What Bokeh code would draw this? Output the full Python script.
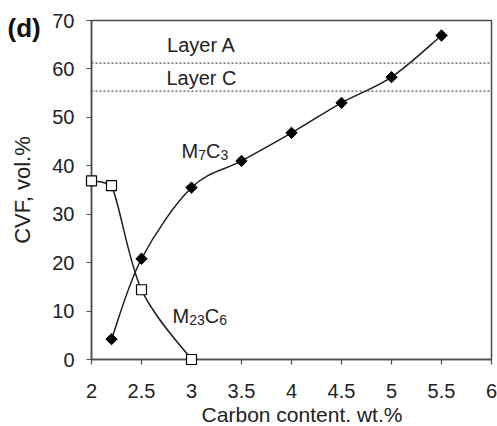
import numpy as np
from bokeh.plotting import figure
from bokeh.models import Span, ColumnDataSource, FixedTicker, NumeralTickFormatter, Range1d
from bokeh.core.properties import value
from bokeh.embed import file_html
from bokeh.resources import INLINE

# ---- data ----
carbon_m7c3 = [2.2, 2.5, 3.0, 3.5, 4.0, 4.5, 5.0, 5.5]
cvf_m7c3 = [4.2, 20.8, 35.5, 41.0, 46.8, 53.0, 58.3, 66.9]
carbon_m23c6 = [2.0, 2.2, 2.5, 3.0]
cvf_m23c6 = [36.9, 35.9, 14.4, 0.0]
layer_names = ["Layer A", "Layer C"]
layer_levels = [61.2, 55.4]
x_ticks = [2, 2.5, 3, 3.5, 4, 4.5, 5, 5.5, 6]
y_ticks = [0, 10, 20, 30, 40, 50, 60, 70]
x_title = "Carbon content. wt.%"
y_title = "CVF, vol.%"
panel_tag = "(d)"

FONT = "Liberation Sans"
TXT = "#222222"
AX = "#4d4d4d"

p = figure(width=497, height=426, output_backend="svg", toolbar_location=None,
           x_range=Range1d(2, 6), y_range=Range1d(0, 70),
           min_border_left=91, min_border_right=6, min_border_top=20, min_border_bottom=67)
p.grid.visible = False
p.outline_line_color = AX
p.outline_line_width = 1.5
p.background_fill_color = "white"
p.border_fill_color = "white"

for ax in (p.xaxis[0], p.yaxis[0]):
    ax.axis_line_color = AX
    ax.axis_line_width = 1.5
    ax.major_tick_line_color = AX
    ax.major_tick_line_width = 1.2
    ax.major_tick_out = 5
    ax.major_tick_in = 0
    ax.minor_tick_line_color = None
    ax.major_label_text_font = FONT
    ax.major_label_text_font_size = "20px"
    ax.major_label_text_color = TXT
    ax.axis_label_text_font = FONT
    ax.axis_label_text_font_style = "normal"
    ax.axis_label_text_color = TXT

p.xaxis.ticker = FixedTicker(ticks=x_ticks)
p.yaxis.ticker = FixedTicker(ticks=y_ticks)
p.xaxis.formatter = NumeralTickFormatter(format="0.[0]")
p.yaxis.formatter = NumeralTickFormatter(format="0")
p.yaxis.axis_label = y_title
p.yaxis.axis_label_text_font_size = "22px"
p.xaxis.major_label_standoff = 19
p.yaxis.major_label_standoff = 12
p.yaxis.axis_label_standoff = 14


def smooth(xs, ys):
    x = np.asarray(xs, float)
    y = np.asarray(ys, float)
    xp = np.concatenate([[x[0]], x, [x[-1]]])
    yp = np.concatenate([[y[0]], y, [y[-1]]])
    k = 1 / 6
    cx0 = x[:-1] + (xp[2:-1] - xp[:-3]) * k
    cy0 = y[:-1] + (yp[2:-1] - yp[:-3]) * k
    cx1 = x[1:] - (xp[3:] - xp[1:-2]) * k
    cy1 = y[1:] - (yp[3:] - yp[1:-2]) * k
    lo = np.minimum(y[:-1], y[1:])
    hi = np.maximum(y[:-1], y[1:])
    cy0 = np.clip(cy0, lo, hi)
    cy1 = np.clip(cy1, lo, hi)
    return dict(x0=x[:-1], y0=y[:-1], x1=x[1:], y1=y[1:], cx0=cx0, cy0=cy0, cx1=cx1, cy1=cy1)


LINE = "#1e1e1e"
for xs, ys in ((carbon_m7c3, cvf_m7c3), (carbon_m23c6, cvf_m23c6)):
    src = ColumnDataSource(smooth(xs, ys))
    p.bezier(x0="x0", y0="y0", x1="x1", y1="y1", cx0="cx0", cy0="cy0", cx1="cx1", cy1="cy1",
             source=src, line_color=LINE, line_width=1.5)

for name, lvl in zip(layer_names, layer_levels):
    p.add_layout(Span(location=lvl, dimension="width", line_color="#555555",
                      line_width=1.2, line_dash="2 2"))

p.scatter(carbon_m7c3, cvf_m7c3, marker="square", angle=np.pi / 4, size=8,
          fill_color="black", line_color="black", line_width=1, level="overlay")
p.scatter(carbon_m23c6, cvf_m23c6, marker="square", size=10,
          fill_color="white", line_color="black", line_width=1.2, level="overlay")

# layer labels
p.text(x=[3.1, 3.1], y=[64.9, 58.2], text=layer_names, text_font=value(FONT),
       text_font_size="20px", text_color=TXT, text_align="center", text_baseline="alphabetic")

# chemical labels with subscripts: pieces (text, is_sub)
def formula(pieces, x, y):
    widths = {"M": 0.833, "C": 0.722}
    xs, ys, texts, xo, yo, sizes = [], [], [], [], [], []
    off = 0.0
    for t, sub in pieces:
        fs = 14 if sub else 20
        xs.append(x); ys.append(y); texts.append(t)
        xo.append(off); yo.append(4 if sub else 0); sizes.append(f"{fs}px")
        off += sum(widths.get(c, 0.556) for c in t) * fs
    src = ColumnDataSource(dict(x=xs, y=ys, text=texts, xo=xo, yo=yo, fs=sizes))
    p.text(x="x", y="y", text="text", x_offset="xo", y_offset="yo", text_font_size="fs",
           source=src, text_font=value(FONT), text_color=TXT, text_align="left",
           text_baseline="alphabetic")

formula([("M", False), ("7", True), ("C", False), ("3", True)], 2.9, 43.0)
formula([("M", False), ("23", True), ("C", False), ("6", True)], 2.81, 9.0)

# x-axis title and panel tag, drawn outside the frame
p.text(x=[4.105], y=[-11.4], text=[x_title], text_font=value(FONT), text_font_size="21px",
       text_color=TXT, text_align="center", text_baseline="alphabetic", level="overlay")
p.text(x=[1.16], y=[71.6], text=[panel_tag], text_font=value(FONT), text_font_size="26px",
       text_font_style="bold", text_color="#111111", text_align="left", text_baseline="top",
       level="overlay")

open("out.html", "w").write(file_html(p, INLINE))
